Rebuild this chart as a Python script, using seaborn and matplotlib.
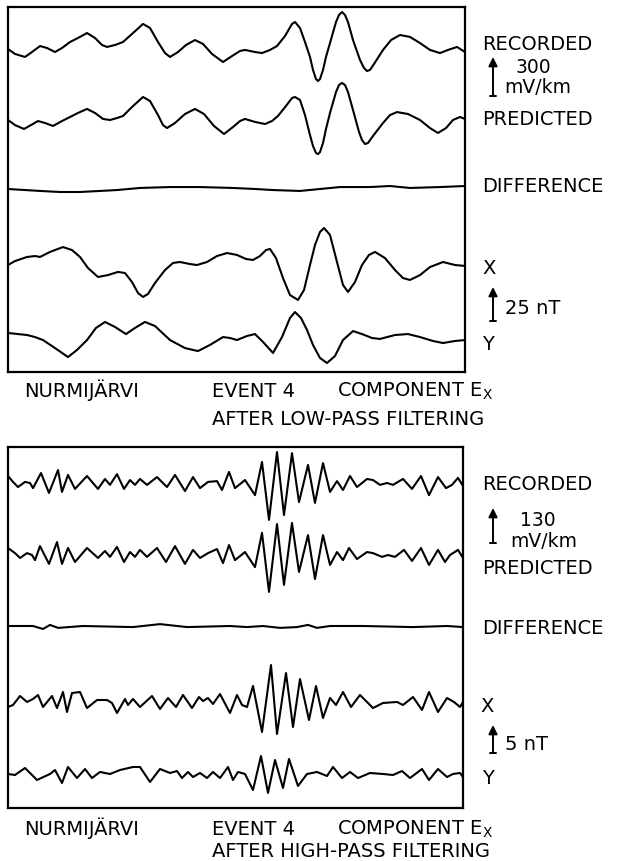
import numpy as np
import matplotlib
matplotlib.use("Agg")
import matplotlib.pyplot as plt
import seaborn as sns

# Digitised traces. Time in samples from the left edge of the window,
# electric field in mV/km, magnetic field in nT (relative to the trace baseline).

# ---- low-pass filtered ----
lp_rec_t = [0, 7, 17, 24, 32, 39, 47, 54, 62, 70, 79, 87, 94, 99, 107, 115, 124, 135, 142, 150,
            157, 162, 170, 178, 187, 195, 204, 215, 224, 232, 237, 247, 254, 262, 269, 277, 284, 287, 292, 297,
            302, 305, 308, 310, 312, 315, 318, 322, 328, 331, 334, 337, 340, 345, 352, 356, 359, 362, 366,
            375, 383, 392, 402, 412, 422, 432, 440, 449, 457]
lp_rec_e = [-31, -69, -92, -54, -8, -23, -54, -23, 23, 54, 92, 54, 0, -15, 0, 23, 85, 162, 131, 23,
            -62, -92, -54, 0, 38, 8, -69, -131, -85, -46, -38, -54, -62, -38, -8, 69, 162, 177, 131, 23,
            -92, -192, -262, -277, -262, -192, -92, 15, 177, 231, 254, 231, 177, 38, -115, -177, -200, -192, -146,
            -38, 38, 77, 62, 15, -38, -62, -38, -15, -54]

lp_pre_t = [0, 7, 16, 23, 30, 37, 45, 54, 62, 70, 79, 87, 95, 102, 109, 115, 124, 135, 142, 150,
            155, 159, 167, 177, 187, 196, 206, 216, 225, 232, 237, 247, 257, 264, 270, 278, 284, 287, 292, 297,
            302, 305, 308, 310, 312, 315, 318, 322, 328, 331, 334, 337, 340, 345, 351, 354, 357, 360, 365,
            375, 382, 389, 400, 412, 422, 430, 438, 445, 452, 457]
lp_pre_e = [-23, -62, -92, -62, -31, -46, -69, -31, 0, 31, 62, 31, -15, -23, -8, 8, 77, 154, 123, 15,
            -62, -85, -46, 23, 62, 23, -69, -131, -77, -31, -15, -38, -54, -31, 8, 85, 146, 154, 131, 15,
            -139, -223, -277, -285, -270, -200, -92, 31, 192, 246, 262, 246, 192, 54, -115, -177, -208, -200, -146,
            -46, 15, 38, 23, -23, -85, -123, -85, -23, 0, -15]

lp_dif_t = [0, 17, 32, 52, 72, 92, 109, 132, 162, 192, 225, 247, 265, 292, 312, 332, 362, 382, 402, 432, 457]
lp_dif_e = [0, -8, -15, -23, -23, -15, -8, 8, 15, 15, 8, 0, -8, -15, 0, 15, 15, 23, 8, 15, 23]

lp_x_t = [0, 7, 19, 27, 32, 42, 55, 64, 72, 80, 90, 100, 110, 117, 124, 130, 135, 140, 147, 157,
          165, 172, 182, 189, 199, 209, 219, 229, 238, 245, 252, 258, 262, 268, 275, 282, 290, 296, 302, 307,
          312, 316, 322, 329, 335, 340, 347, 354, 361, 367, 377, 387, 395, 402, 412, 422, 435, 447, 457]
lp_x_b = [0, 2.9, 5.9, 6.6, 5.9, 9.6, 13.2, 11.0, 5.9, -2.2, -8.8, -7.4, -5.1, -5.9, -12.5, -20.6, -23.5, -21.3, -13.2, -3.7,
          1.5, 2.2, 0.7, 0, 2.2, 6.6, 8.8, 7.4, 4.4, 3.7, 6.6, 11.0, 11.8, 5.1, -9.6, -22.1, -25.7, -18.4, 0, 14.7,
          24.3, 27.2, 22.1, 2.2, -14.7, -19.8, -12.5, 0, 7.4, 9.6, 5.1, -3.7, -9.6, -11.0, -7.4, -1.5, 2.2, 0, -0.7]

lp_y_t = [0, 10, 19, 27, 35, 47, 60, 69, 79, 88, 97, 107, 118, 127, 137, 147, 162, 177, 190, 202,
          215, 222, 229, 239, 247, 255, 265, 274, 282, 287, 293, 299, 305, 312, 319, 327, 335, 345, 354, 364,
          372, 387, 400, 412, 425, 435, 447, 457]
lp_y_b = [3.7, 2.9, 2.2, 0.7, -1.5, -7.4, -14.0, -8.8, -1.5, 7.4, 11.8, 8.1, 2.9, 7.4, 11.8, 8.8, -1.5, -7.4, -9.6, -5.1,
          0.7, 0, -1.5, 1.5, 2.9, -2.9, -11.0, 0.7, 14.7, 19.1, 14.7, 5.9, -5.1, -14.7, -18.4, -13.2, -1.5, 5.1, 2.9, 0,
          -0.7, 2.2, 2.9, 0.7, -2.2, -3.7, -2.2, -1.5]

# ---- high-pass filtered ----
hp_rec_t = [0, 5, 10, 17, 22, 25, 33, 41, 50, 54, 60, 67, 79, 90, 97, 102, 109, 116, 122, 127,
            132, 139, 149, 159, 167, 177, 185, 192, 200, 209, 214, 221, 227, 237, 247, 254, 261, 269, 276, 284,
            291, 300, 307, 315, 322, 329, 335, 342, 349, 359, 365, 372, 379, 385, 395, 404, 413, 421, 430, 438,
            444, 450, 455]
hp_rec_e = [26, 4, -15, 4, 0, -19, 37, -37, 48, -33, 30, -22, 26, -22, 15, -7, 33, -22, 11, -7,
            15, -7, 22, -15, 30, -30, 22, -19, 4, 7, -26, 41, -19, 11, -45, 78, -137, 115, -119, 111,
            -71, 67, -74, 74, -33, 7, -26, 26, -15, 15, 11, -7, 0, -7, 15, -22, 26, -45, 22, -19,
            -7, 19, -11]

hp_pre_t = [0, 7, 12, 19, 24, 27, 32, 41, 49, 54, 60, 67, 79, 90, 97, 102, 109, 116, 122, 127,
            132, 139, 149, 158, 167, 177, 185, 192, 200, 209, 215, 221, 227, 237, 247, 254, 261, 269, 276, 284,
            291, 300, 307, 315, 322, 329, 335, 341, 349, 359, 365, 374, 380, 387, 396, 404, 413, 421, 430, 437,
            442, 450, 455]
hp_pre_e = [26, 7, -11, 7, 0, -19, 33, -33, 48, -33, 26, -26, 26, -11, 15, -7, 30, -26, 11, -7,
            19, -7, 26, -26, 33, -33, 19, -11, 7, 22, -30, 37, -19, 11, -45, 82, -137, 115, -111, 119,
            -63, 74, -89, 74, -37, 11, -19, 26, -15, 11, 7, -7, 0, -7, 19, -22, 26, -37, 19, -26,
            0, 19, -11]

hp_dif_t = [0, 25, 35, 42, 50, 75, 125, 152, 179, 222, 239, 255, 272, 289, 300, 309, 322, 355, 405, 439, 455]
hp_dif_e = [0, 0, -11, 4, -7, 0, -4, 7, -4, 0, -4, 0, -7, -4, 4, -7, 0, 0, -4, 0, -4]

hp_x_t = [0, 5, 12, 19, 25, 30, 35, 44, 49, 55, 59, 64, 72, 79, 89, 99, 104, 109, 117, 120,
          125, 132, 144, 152, 160, 168, 175, 184, 191, 195, 200, 205, 212, 222, 229, 234, 239, 245, 254, 263,
          269, 278, 285, 292, 301, 308, 315, 322, 328, 335, 343, 352, 365, 375, 389, 395, 405, 414, 421, 430,
          439, 446, 452, 455]
hp_x_b = [-0.36, 0, 1.61, 0.54, 1.07, 1.79, -0.36, 1.61, -0.54, 2.32, -1.25, 2.14, 2.32, -0.54, 0.89, 0.89, 0.36, -1.43, 1.07, 0,
          1.07, -0.36, 1.61, -0.71, 1.25, -0.36, 1.79, -0.54, 1.43, 0.71, 1.25, 0.18, 1.96, -1.43, 1.79, 0, -0.36, 3.39, -4.82, 7.14,
          -5.18, 5.71, -3.93, 4.64, -2.68, 3.39, -2.32, 1.25, 0, 2.32, -0.36, 1.79, -0.54, 0.36, 0.54, 0, 1.43, -0.89, 2.32, -1.25,
          1.25, 0.54, -0.36, 0.54]

hp_y_t = [0, 7, 17, 29, 42, 47, 54, 60, 69, 77, 84, 92, 102, 112, 125, 132, 142, 152, 162, 169,
          174, 180, 185, 192, 199, 205, 212, 220, 225, 230, 237, 245, 253, 260, 267, 275, 281, 290, 299, 309,
          319, 325, 334, 342, 350, 362, 375, 385, 394, 402, 414, 421, 430, 439, 445, 452, 455]
hp_y_b = [0.18, 0, 1.25, -0.89, 0.18, 0.89, -1.43, 1.43, -0.54, 1.07, -0.54, 0.54, 0.18, 0.89, 1.43, 1.43, -1.25, 1.07, 0.36, 0.71,
          -0.54, 0.54, -0.36, 0.36, -0.54, 0.54, -0.54, 1.43, -0.89, 0.54, 0.18, -2.68, 3.39, -3.21, 2.68, -2.32, 2.86, -1.96, 0.18, 0.54,
          -0.18, 1.43, -0.54, 0.54, -0.54, 0.36, 0.18, 0, 0.71, -0.54, 1.07, -0.89, 1.07, -0.36, 0.18, 0.36, -0.36]

trace_names = ["RECORDED", "PREDICTED", "DIFFERENCE", "X", "Y"]

sns.set_style("white")
plt.rcParams["font.family"] = ["DejaVu Sans"]
plt.rcParams["mathtext.default"] = "regular"

W, H = 622, 861
fig = plt.figure(figsize=(W / 100, H / 100), dpi=100)
FS = 14


def fx(px):
    return px / W


def fy(py):
    return 1 - py / H


def panel(left, top, right, bottom):
    ax = fig.add_axes([fx(left), fy(bottom), (right - left) / W, (bottom - top) / H])
    ax.set_xlim(0, right - left)
    ax.set_ylim(bottom, top)
    ax.set_xticks([])
    ax.set_yticks([])
    for s in ax.spines.values():
        s.set_color("black")
        s.set_linewidth(1.6)
    return ax


def trace(ax, t, v, base, gain):
    y = base - np.asarray(v, dtype=float) * gain
    sns.lineplot(x=t, y=y, ax=ax, color="black", lw=1.5, sort=False, errorbar=None,
                 solid_joinstyle="round", solid_capstyle="round")


def label(x, y, s, ha="left", size=FS):
    fig.text(fx(x), fy(y + size * 0.5), s, fontsize=size, ha=ha, va="baseline", color="black")


def scale_bar(x, top, bottom):
    fig.add_artist(matplotlib.patches.FancyArrowPatch(
        (fx(x), fy(bottom)), (fx(x), fy(top)), transform=fig.transFigure,
        arrowstyle="-|>", mutation_scale=13, color="black", lw=1.4,
        shrinkA=0, shrinkB=0))
    fig.add_artist(matplotlib.lines.Line2D(
        [fx(x - 3), fx(x + 3)], [fy(bottom), fy(bottom)],
        transform=fig.transFigure, color="black", lw=1.4))


# ---- upper panel: low-pass ----
ax1 = panel(8, 7, 465, 372)
e_gain, b_gain = 39 / 300, 34 / 25
trace(ax1, lp_rec_t, lp_rec_e, 45, e_gain)
trace(ax1, lp_pre_t, lp_pre_e, 117, e_gain)
trace(ax1, lp_dif_t, lp_dif_e, 189, e_gain)
trace(ax1, lp_x_t, lp_x_b, 265, b_gain)
trace(ax1, lp_y_t, lp_y_b, 338, b_gain)

label(482, 43, trace_names[0])
scale_bar(493, 57, 96)
label(533, 66, "300", ha="center", size=13.5)
label(538, 86, "mV/km", ha="center", size=13.5)
label(482, 118, trace_names[1])
label(482, 185, trace_names[2])
label(482, 267, trace_names[3])
scale_bar(493, 287, 321)
label(505, 307, "25 nT")
label(482, 343, trace_names[4])

label(24, 390, "NURMIJÄRVI")
label(212, 390, "EVENT 4")
label(337, 390, "COMPONENT E$_{X}$")
label(212, 418, "AFTER LOW-PASS FILTERING")

# ---- lower panel: high-pass ----
ax2 = panel(8, 447, 463, 808)
e_gain, b_gain = 35 / 130, 28 / 5
trace(ax2, hp_rec_t, hp_rec_e, 483, e_gain)
trace(ax2, hp_pre_t, hp_pre_e, 555, e_gain)
trace(ax2, hp_dif_t, hp_dif_e, 626, e_gain)
trace(ax2, hp_x_t, hp_x_b, 705, b_gain)
trace(ax2, hp_y_t, hp_y_b, 775, b_gain)

label(482, 483, trace_names[0])
scale_bar(493, 508, 543)
label(538, 519, "130", ha="center", size=13.5)
label(544, 540, "mV/km", ha="center", size=13.5)
label(482, 567, trace_names[1])
label(482, 627, trace_names[2])
label(480, 705, trace_names[3])
scale_bar(493, 725, 753)
label(505, 743, "5 nT")
label(482, 777, trace_names[4])

label(24, 828, "NURMIJÄRVI")
label(212, 828, "EVENT 4")
label(337, 828, "COMPONENT E$_{X}$")
label(212, 850, "AFTER HIGH-PASS FILTERING")

fig.savefig("out.png", dpi=100)
